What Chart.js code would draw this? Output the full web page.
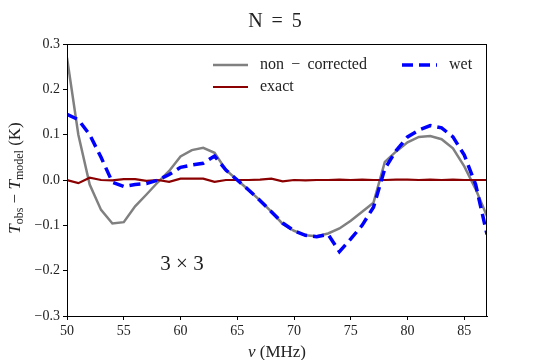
<!DOCTYPE html>
<html>
<head>
<meta charset="utf-8">
<script src="https://cdn.jsdelivr.net/npm/chart.js@4"></script>
<style>
  body { margin: 0; background: #fff; }
  #wrap { width: 540px; height: 360px; }
</style>
</head>
<body>
<div id="wrap"><canvas id="resChart" width="540" height="360"></canvas></div>
<script>
// frequency channels (MHz)
const freqs = [50, 51, 52, 53, 54, 55, 56, 57, 58, 59, 60, 61, 62, 63, 64, 65, 66, 67, 68,
  69, 70, 71, 72, 73, 74, 75, 76, 77, 78, 79, 80, 81, 82, 83, 84, 85, 86, 87];

// residuals T_obs - T_model (K)
const nonCorrected = [0.27, 0.10, -0.01, -0.066, -0.096, -0.093, -0.058, -0.032, -0.005, 0.02,
  0.052, 0.066, 0.071, 0.06, 0.022, 0.0, -0.022, -0.045, -0.07, -0.097, -0.112, -0.122, -0.124,
  -0.118, -0.107, -0.09, -0.07, -0.05, 0.04, 0.063, 0.083, 0.095, 0.097, 0.09, 0.07, 0.03, -0.02, -0.08];
const exact = [0.0, -0.007, 0.005, 0.0, -0.001, 0.002, 0.002, -0.002, 0.0, -0.004, 0.003, 0.003,
  0.003, -0.004, 0.0, 0.0, 0.0, 0.001, 0.003, -0.003, 0.0, -0.001, 0.0, 0.0, 0.001, 0.0, 0.001,
  0.0, 0.0, 0.001, 0.001, 0.0, 0.001, 0.0, 0.001, 0.0, 0.0, 0.0];
const wet = [0.145, 0.133, 0.1, 0.05, -0.005, -0.014, -0.01, -0.008, 0.0, 0.012, 0.028, 0.033,
  0.037, 0.053, 0.022, 0.0, -0.022, -0.045, -0.07, -0.095, -0.112, -0.122, -0.125, -0.12, -0.158,
  -0.13, -0.1, -0.06, 0.025, 0.065, 0.095, 0.11, 0.12, 0.115, 0.095, 0.055, -0.01, -0.12];

const xTicks = [50, 55, 60, 65, 70, 75, 80, 85];
const yTicks = [-0.3, -0.2, -0.1, 0.0, 0.1, 0.2, 0.3];

const serif = '"Liberation Serif", "DejaVu Serif", serif';

function pts(arr) {
  return freqs.map(function (f, i) { return { x: f, y: arr[i] }; });
}

// draw a run of text pieces (for sub-scripts), centred on x,y
function richText(ctx, parts, x, y) {
  let total = 0;
  parts.forEach(function (p) { ctx.font = p.font; total += ctx.measureText(p.text).width; });
  let cx = x - total / 2;
  ctx.textBaseline = 'alphabetic';
  ctx.textAlign = 'left';
  parts.forEach(function (p) {
    ctx.font = p.font;
    ctx.fillText(p.text, cx, y + (p.dy || 0));
    cx += ctx.measureText(p.text).width;
  });
}

const extras = {
  id: 'extras',
  afterDraw: function (chart) {
    const ctx = chart.ctx;
    const a = chart.chartArea;
    ctx.save();
    // frame
    ctx.strokeStyle = '#000';
    ctx.lineWidth = 1;
    ctx.strokeRect(a.left + 0.5, a.top + 0.5, a.right - a.left - 1, a.bottom - a.top);

    ctx.fillStyle = '#222';
    // title
    richText(ctx, [{ text: 'N \u2009=\u2009 5', font: '20px ' + serif }], 275, 27);

    // x label
    richText(ctx, [
      { text: 'ν', font: 'italic 17px ' + serif },
      { text: ' (MHz)', font: '17px ' + serif }
    ], 277, 357);

    // y label
    ctx.save();
    ctx.translate(20, 178);
    ctx.rotate(-Math.PI / 2);
    richText(ctx, [
      { text: 'T', font: 'italic 17px ' + serif },
      { text: 'obs', font: '12px ' + serif, dy: 3 },
      { text: ' − ', font: '17px ' + serif },
      { text: 'T', font: 'italic 17px ' + serif },
      { text: 'model', font: '12px ' + serif, dy: 3 },
      { text: ' (K)', font: '17px ' + serif }
    ], 0, 0);
    ctx.restore();

    // annotation
    ctx.font = '21px ' + serif;
    ctx.textAlign = 'center';
    ctx.textBaseline = 'middle';
    ctx.fillText('3 × 3', 182, 264);

    // legend
    const ds = chart.data.datasets;
    const items = [
      { d: ds[0], x: 213, y: 65 },
      { d: ds[1], x: 213, y: 87 },
      { d: ds[2], x: 402, y: 65 }
    ];
    items.forEach(function (it) {
      ctx.beginPath();
      ctx.strokeStyle = it.d.borderColor;
      ctx.lineWidth = it.d.borderWidth;
      ctx.setLineDash(it.d.borderDash || []);
      ctx.moveTo(it.x, it.y);
      ctx.lineTo(it.x + 35, it.y);
      ctx.stroke();
      ctx.setLineDash([]);
      ctx.fillStyle = '#222';
      ctx.font = '16px ' + serif;
      ctx.textAlign = 'left';
      ctx.textBaseline = 'middle';
      ctx.fillText(it.d.label, it.x + 47, it.y);
    });
    ctx.restore();
  }
};

new Chart(document.getElementById('resChart'), {
  type: 'line',
  data: {
    datasets: [
      { label: 'non \u2009−\u2009 corrected', data: pts(nonCorrected), borderColor: '#808080', borderWidth: 2.5, order: 2 },
      { label: 'exact', data: pts(exact), borderColor: '#8b0000', borderWidth: 2.2, order: 1 },
      { label: 'wet', data: pts(wet), borderColor: '#0000ff', borderWidth: 3.5, borderDash: [11, 6], order: 0 }
    ]
  },
  options: {
    responsive: false,
    animation: false,
    layout: { padding: { left: 0, top: 44, right: 53, bottom: 0 } },
    elements: { point: { radius: 0 }, line: { tension: 0, fill: false } },
    plugins: { legend: { display: false }, tooltip: { enabled: false }, title: { display: false } },
    scales: {
      x: {
        type: 'linear', min: 50, max: 87,
        afterBuildTicks: function (s) { s.ticks = xTicks.map(function (v) { return { value: v }; }); },
        afterFit: function (s) { s.height = 44; },
        grid: { drawOnChartArea: false, drawTicks: true, tickLength: 4, color: '#000' },
        border: { display: true, color: '#000' },
        ticks: { font: { family: serif, size: 14 }, color: '#222', padding: 3, maxRotation: 0 }
      },
      y: {
        min: -0.3, max: 0.3,
        afterBuildTicks: function (s) { s.ticks = yTicks.map(function (v) { return { value: v }; }); },
        afterFit: function (s) { s.width = 67; },
        grid: { drawOnChartArea: false, drawTicks: true, tickLength: 4, color: '#000' },
        border: { display: true, color: '#000' },
        ticks: {
          font: { family: serif, size: 14 }, color: '#222', padding: 3,
          callback: function (v) {
            const r = Math.round(v * 10) / 10;
            return (r < 0 ? '−' : '') + Math.abs(r).toFixed(1);
          }
        }
      }
    }
  },
  plugins: [extras]
});
</script>
</body>
</html>
